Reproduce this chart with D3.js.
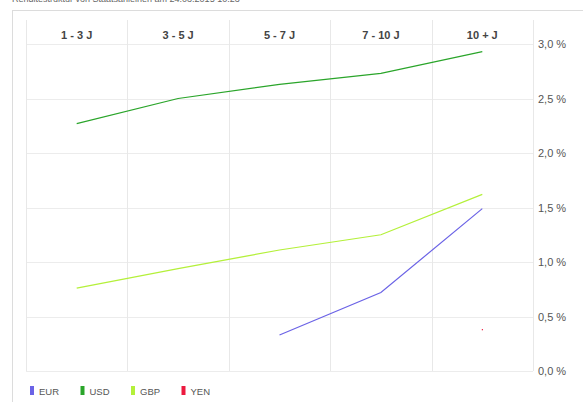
<!DOCTYPE html>
<html>
<head>
<meta charset="utf-8">
<script src="https://cdn.jsdelivr.net/npm/d3@7/dist/d3.min.js"></script>
<style>
  html, body { margin: 0; padding: 0; background: #fff; }
  svg { display: block; font-family: "Liberation Sans", Arial, sans-serif; }
</style>
</head>
<body>
<svg id="chart" width="583" height="402"></svg>
<script>
// Maturity buckets and yields (%) per currency
const categories = ["1 - 3 J", "3 - 5 J", "5 - 7 J", "7 - 10 J", "10 + J"];
const eur = [null, null, 0.33, 0.72, 1.49];
const usd = [2.27, 2.50, 2.63, 2.73, 2.93];
const gbp = [0.76, 0.94, 1.11, 1.25, 1.62];
const yen = [null, null, null, null, 0.38];
const yTicks = [0, 0.5, 1.0, 1.5, 2.0, 2.5, 3.0];
const seriesNames = ["EUR", "USD", "GBP", "YEN"];
const seriesColors = ["#6b63e6", "#2aa52a", "#b4f03a", "#ec1a3f"];
const seriesValues = [eur, usd, gbp, yen];

const svg = d3.select("#chart");
const plotLeft = 26, plotRight = 533, plotTop = 44, plotBottom = 371;

const x = d3.scaleBand().domain(categories).range([plotLeft, plotRight]);
const y = d3.scaleLinear().domain([0, 3]).range([plotBottom, plotTop]);

// Title (partly above the visible area)
svg.append("text")
  .attr("x", 12).attr("y", 2)
  .attr("font-size", 9).attr("fill", "#666")
  .text("Renditestruktur von Staatsanleihen am 24.03.2015 10:23");

// Outer frame
svg.append("line").attr("x1", 12).attr("x2", 583).attr("y1", 10.5).attr("y2", 10.5)
  .attr("stroke", "#dcdcdc");
svg.append("line").attr("x1", 12.5).attr("x2", 12.5).attr("y1", 10).attr("y2", 402)
  .attr("stroke", "#dcdcdc");

// Horizontal gridlines
svg.append("g").selectAll("line").data(yTicks).join("line")
  .attr("x1", plotLeft).attr("x2", plotRight)
  .attr("y1", d => Math.round(y(d)) + 0.5).attr("y2", d => Math.round(y(d)) + 0.5)
  .attr("stroke", "#ececec");

// Vertical gridlines at band boundaries
const bounds = categories.map(c => x(c)).concat([plotRight]);
svg.append("g").selectAll("line").data(bounds).join("line")
  .attr("x1", d => Math.round(d) + 0.5).attr("x2", d => Math.round(d) + 0.5)
  .attr("y1", 20).attr("y2", plotBottom)
  .attr("stroke", "#e8e8e8");

// Category header
svg.append("g").selectAll("text").data(categories).join("text")
  .attr("x", d => x(d) + x.bandwidth() / 2).attr("y", 39)
  .attr("text-anchor", "middle").attr("font-size", 11).attr("font-weight", "bold")
  .attr("fill", "#444").text(d => d);

// Right value axis
const fmt = d => d3.format(".1f")(d).replace(".", ",") + " %";
const yAxis = svg.append("g").attr("transform", `translate(${plotRight},0)`)
  .call(d3.axisRight(y).tickValues(yTicks).tickFormat(fmt).tickSize(0).tickPadding(5));
yAxis.select(".domain").remove();
yAxis.selectAll("text").attr("font-size", 11).attr("fill", "#555")
  .attr("font-family", "Liberation Sans, Arial, sans-serif");

// Lines
const line = d3.line()
  .defined(d => d.v !== null)
  .x(d => x(d.c) + x.bandwidth() / 2)
  .y(d => y(d.v));

seriesValues.forEach((vals, i) => {
  const pts = vals.map((v, j) => ({ c: categories[j], v }));
  svg.append("path").datum(pts)
    .attr("fill", "none").attr("stroke", seriesColors[i]).attr("stroke-width", 1.2)
    .attr("d", line);
  // isolated points (no neighbours) drawn as a small dot
  pts.forEach((p, j) => {
    if (p.v === null) return;
    const prev = j > 0 ? vals[j - 1] : null, next = j < vals.length - 1 ? vals[j + 1] : null;
    if (prev === null && next === null) {
      svg.append("rect")
        .attr("x", x(p.c) + x.bandwidth() / 2 - 0.5).attr("y", y(p.v) - 0.5)
        .attr("width", 1.2).attr("height", 1.2).attr("fill", seriesColors[i]);
    }
  });
});

// Legend
const leg = svg.append("g").selectAll("g").data(seriesNames).join("g")
  .attr("transform", (d, i) => `translate(${30 + i * 50.5},386)`);
leg.append("rect").attr("width", 4).attr("height", 9)
  .attr("fill", (d, i) => seriesColors[i]);
leg.append("text").attr("x", 9).attr("y", 8.5).attr("font-size", 9.5).attr("fill", "#555")
  .text(d => d);
</script>
</body>
</html>
